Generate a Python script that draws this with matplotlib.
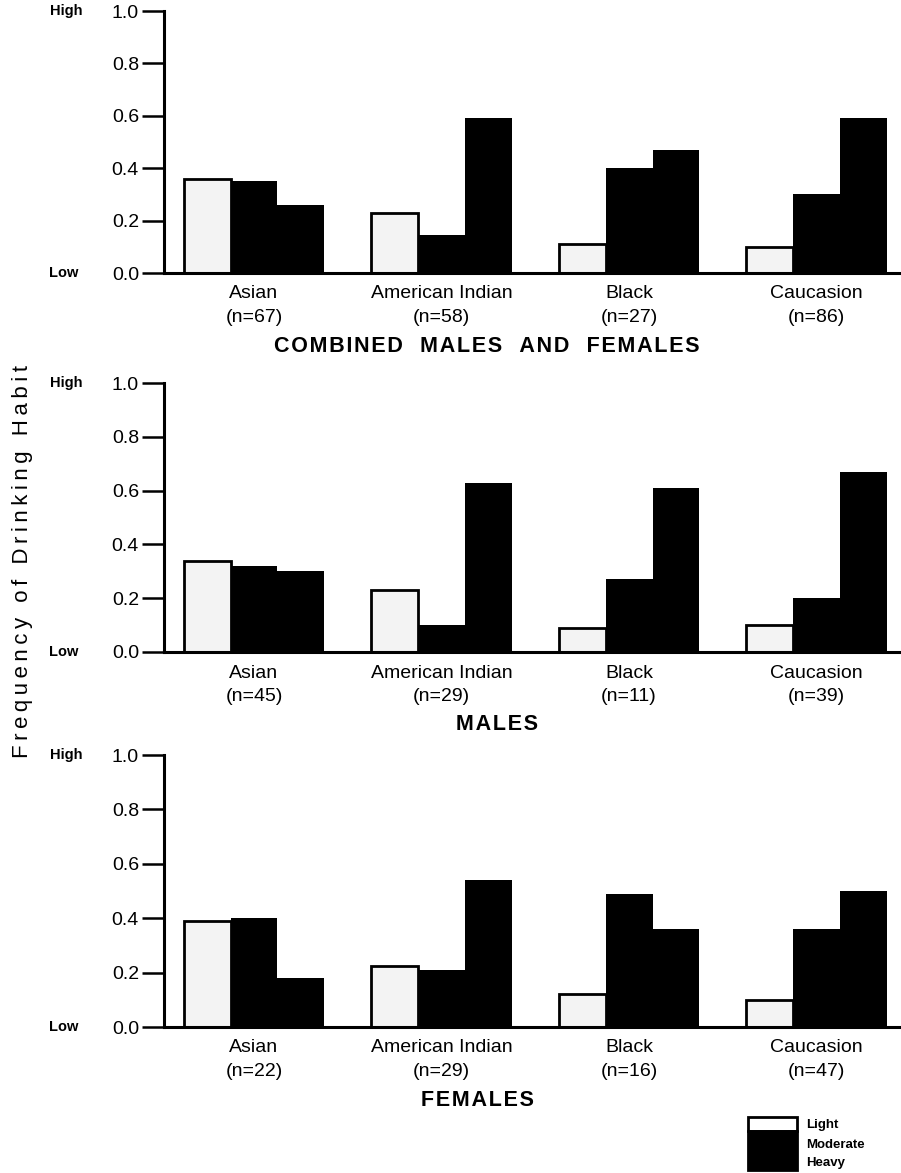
import numpy as np
import matplotlib.pyplot as plt
from matplotlib.patches import Rectangle
from matplotlib.transforms import blended_transform_factory

plt.rcParams['font.family'] = ['Liberation Sans', 'DejaVu Sans']

groups = ["Asian", "American Indian", "Black", "Caucasion"]
levels = ["Light", "Moderate", "Heavy"]
yticks = [0.0, 0.2, 0.4, 0.6, 0.8, 1.0]

combined_n = [67, 58, 27, 86]
combined_light = [0.36, 0.23, 0.11, 0.10]
combined_moderate = [0.35, 0.145, 0.40, 0.30]
combined_heavy = [0.26, 0.59, 0.47, 0.59]

males_n = [45, 29, 11, 39]
males_light = [0.34, 0.23, 0.09, 0.10]
males_moderate = [0.32, 0.10, 0.27, 0.20]
males_heavy = [0.30, 0.63, 0.61, 0.67]

females_n = [22, 29, 16, 47]
females_light = [0.39, 0.225, 0.12, 0.10]
females_moderate = [0.40, 0.21, 0.49, 0.36]
females_heavy = [0.18, 0.54, 0.36, 0.50]

panels = [
    ("COMBINED  MALES  AND  FEMALES", combined_n, combined_light, combined_moderate, combined_heavy),
    ("MALES", males_n, males_light, males_moderate, males_heavy),
    ("FEMALES", females_n, females_light, females_moderate, females_heavy),
]

W, H = 901, 1173
# pixel positions of each panel: (y of 0.0, y of 1.0, title y, title x)
layout = [(273, 11, 347, 487), (652, 383, 725, 497), (1027, 755, 1100, 477)]
left_px = 164


def spaced(s, gap='\u200a'):
    return gap.join(s)


fig = plt.figure(figsize=(W / 100, H / 100), dpi=100)

for (title, n, light, moderate, heavy), (y0, y1, ty, tx) in zip(panels, layout):
    ax = fig.add_axes([left_px / W, 1 - y0 / H, 1 - left_px / W, (y0 - y1) / H])
    x = np.arange(len(groups))
    w = 0.25
    ax.bar(x - w, light, w, facecolor='#f3f3f3', edgecolor='black', linewidth=2)
    ax.bar(x, moderate, w, color='black')
    ax.bar(x + w, heavy, w, color='black')

    ax.set_xlim(-0.48, 3.45)
    ax.set_ylim(0, 1)
    for s in ['top', 'right']:
        ax.spines[s].set_visible(False)
    for s in ['left', 'bottom']:
        ax.spines[s].set_linewidth(2.2)

    ax.set_yticks(yticks)
    ax.set_yticklabels([f"{v:.1f}" for v in yticks])
    ax.tick_params(axis='y', length=16, width=1.8, pad=2, labelsize=14)
    ax.set_xticks(x)
    ax.set_xticklabels([f"{g}\n(n={k})" for g, k in zip(groups, n)], linespacing=1.5)
    ax.tick_params(axis='x', length=0, pad=9, labelsize=14)

    trans = blended_transform_factory(fig.transFigure, ax.transData)
    ax.text(66 / W, 1.0, "High", transform=trans, ha='center', va='center',
            fontsize=10.5, fontweight='bold')
    ax.text(64 / W, 0.0, "Low", transform=trans, ha='center', va='center',
            fontsize=10.5, fontweight='bold')

    fig.text(tx / W, 1 - ty / H, spaced(title), ha='center', va='center',
             fontsize=15.5, fontweight='bold')

fig.text(23 / W, 1 - 562 / H, spaced("Frequency of Drinking Habit", '\u2009'),
         rotation=90, ha='center', va='center', fontsize=16)

# legend box
fig.patches.append(Rectangle((748 / W, 1 - 1131 / H), 49 / W, 14 / H,
                             transform=fig.transFigure, facecolor='white',
                             edgecolor='black', linewidth=2))
fig.patches.append(Rectangle((748 / W, 1 - 1170 / H), 49 / W, 39 / H,
                             transform=fig.transFigure, facecolor='black',
                             edgecolor='black', linewidth=2))
for lab, yy in zip(levels, [1125, 1145, 1163]):
    fig.text(806 / W, 1 - yy / H, lab, ha='left', va='center',
             fontsize=9.5, fontweight='bold')

fig.savefig('out.png', dpi=100)
